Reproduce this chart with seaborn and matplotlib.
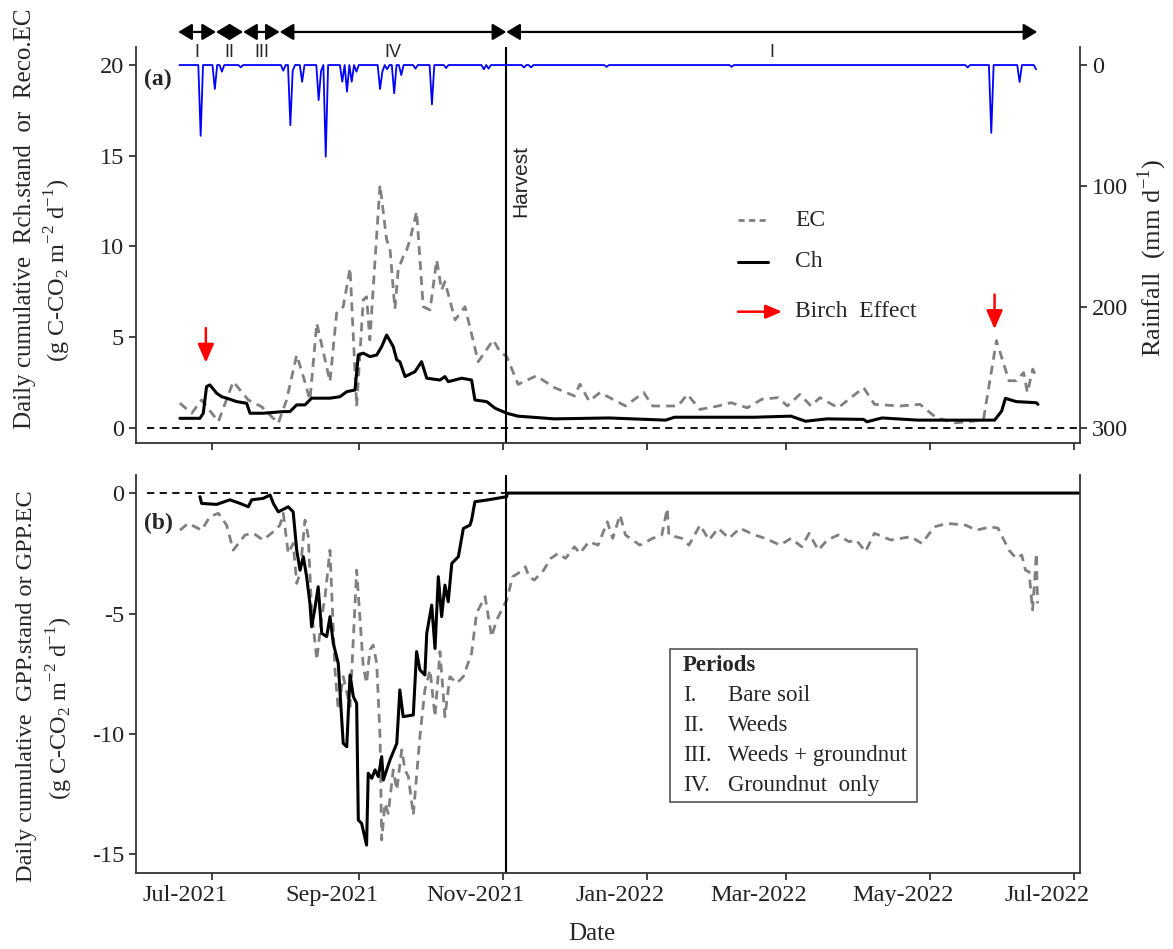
import pandas as pd
import matplotlib
matplotlib.use("Agg")
import matplotlib.pyplot as plt
import matplotlib.dates as mdates
import matplotlib.transforms as mtrans
from matplotlib.patches import Rectangle
import seaborn as sns

# days are counted from 1 Jul 2021
START = pd.Timestamp("2021-07-01")

# ---------------- (a) respiration ----------------
reco_ec_day = [-13.8, -8.8, -4.6, 2.5, 8.8, 15.2, 20.8, 27.9, 31.4, 35.7,
               38.5, 41.3, 44.2, 49.8, 52.6, 55.4, 58.3, 61.1, 63.9, 65.3,
               66.7, 68.9, 71.0, 73.8, 75.2, 77.3, 78.7, 80.8, 82.3, 83.7,
               86.5, 89.3, 92.2, 95.0, 97.1, 98.5, 102.8, 107.0, 112.6, 119.0,
               121.8, 124.7, 129.5, 137.2, 144.9, 153.4, 155.7, 159.6, 164.2, 175.0,
               182.7, 186.5, 197.3, 201.2, 206.6, 214.3, 219.7, 226.6, 232.8, 239.7,
               243.6, 248.9, 253.6, 257.4, 265.1, 275.9, 280.5, 291.3, 299.8, 306.7,
               314.4, 322.1, 326.7, 332.2, 337.5, 340.6, 343.7, 345.3, 347.6, 349.1]
reco_ec = [1.36, 0.81, 1.54, 0.35, 2.55, 1.54, 1.17, 0.26, 1.54, 4.02,
           2.83, 1.54, 5.77, 2.55, 6.32, 6.68, 8.80, 1.17, 7.05, 7.23,
           4.85, 9.26, 13.39, 10.36, 9.90, 6.56, 8.71, 9.44, 9.81, 10.36,
           11.92, 6.68, 6.50, 9.26, 7.60, 8.06, 5.95, 6.68, 3.65, 4.85,
           4.20, 3.93, 2.40, 2.87, 2.22, 1.76, 2.41, 1.48, 1.95, 1.21,
           1.95, 1.21, 1.21, 1.85, 1.02, 1.21, 1.39, 1.11, 1.58, 1.67,
           1.21, 1.85, 1.21, 1.67, 1.11, 2.22, 1.30, 1.21, 1.30, 0.56,
           0.28, 0.37, 0.47, 4.81, 2.60, 2.60, 3.05, 1.95, 3.24, 2.78]

reco_ch_day = [-13.8, -5.3, -3.9, -2.5, -1.1, 1.8, 3.9, 6.0, 10.3, 14.5,
               15.9, 21.5, 30.0, 32.8, 35.7, 39.2, 42.0, 49.8, 54.0, 56.9,
               60.4, 61.8, 63.9, 66.7, 69.6, 71.7, 73.8, 76.6, 78.1, 79.4,
               81.6, 85.8, 88.6, 90.8, 96.4, 98.5, 99.9, 105.6, 109.8, 111.2,
               116.2, 119.7, 124.7, 129.4, 144.9, 168.0, 192.0, 195.8, 229.7, 245.1,
               251.3, 260.4, 275.9, 277.3, 283.7, 298.9, 331.4, 334.4, 336.0, 340.6,
               349.1, 349.8]
reco_ch = [0.53, 0.53, 0.81, 2.28, 2.37, 1.91, 1.72, 1.64, 1.45, 1.36,
           0.81, 0.81, 0.90, 0.90, 1.27, 1.27, 1.64, 1.64, 1.72, 2.00,
           2.09, 4.02, 4.12, 3.93, 4.02, 4.48, 5.12, 4.48, 3.75, 3.65,
           2.83, 3.10, 3.65, 2.74, 2.64, 2.83, 2.55, 2.74, 2.64, 1.54,
           1.45, 1.09, 0.81, 0.65, 0.50, 0.55, 0.43, 0.59, 0.59, 0.65,
           0.37, 0.50, 0.47, 0.34, 0.55, 0.43, 0.43, 0.93, 1.63, 1.45,
           1.39, 1.30]

# rainfall (mm/day), days without rain are 0
rain_day = [-5, 1, 4, 12, 30, 33, 34, 38, 45, 46,
            48, 55, 57, 59, 61, 71, 72, 74, 77, 80,
            86, 93, 99, 115, 117, 132, 135, 167, 220, 320,
            330, 342, 349]
rain_mm = [58.5, 19.8, 5.5, 1.9, 4.7, 49.7, 4.7, 13.8, 29.0, 5.0,
           75.7, 13.8, 22.0, 13.8, 5.5, 19.8, 5.5, 3.5, 23.4, 8.3,
           3.0, 32.5, 2.5, 3.5, 3.0, 2.0, 2.0, 1.5, 1.5, 2.0,
           56.0, 14.0, 3.5]
rain_first, rain_last = -14, 349

# ---------------- (b) GPP ----------------
gpp_ec_day = [-13.8, -10.3, -7.4, -4.6, -1.1, 2.5, 6.0, 8.8, 13.8, 17.3,
              21.5, 25.8, 28.6, 30.0, 32.1, 34.2, 35.7, 37.1, 39.2, 40.6,
              42.0, 44.2, 46.3, 47.7, 49.8, 51.9, 53.3, 55.4, 58.3, 61.1,
              63.9, 65.3, 66.7, 68.1, 69.6, 71.0, 71.7, 73.1, 74.5, 76.6,
              78.1, 80.2, 81.6, 83.0, 85.1, 87.9, 90.0, 92.2, 94.3, 96.4,
              98.5, 100.6, 103.5, 106.3, 109.8, 111.9, 115.5, 118.3, 120.4, 124.7,
              127.2, 129.5, 132.6, 134.1, 136.4, 140.3, 143.4, 146.5, 149.6, 153.4,
              155.7, 159.5, 163.4, 167.3, 169.6, 172.7, 175.0, 181.1, 186.5, 190.4,
              192.7, 193.4, 198.9, 201.9, 206.6, 210.4, 214.3, 218.9, 223.5, 229.7,
              234.3, 240.5, 245.1, 249.7, 252.8, 256.7, 260.5, 265.1, 269.7, 272.8,
              276.7, 280.5, 287.5, 295.9, 300.6, 305.9, 311.4, 319.1, 323.7, 329.8,
              332.9, 337.5, 340.6, 342.9, 344.5, 346.0, 347.5, 348.3, 349.1, 349.6]
gpp_ec = [-1.54, -1.26, -1.40, -1.54, -0.98, -0.84, -1.33, -2.37, -1.74, -1.67,
          -1.95, -1.60, -1.33, -0.84, -2.50, -2.09, -3.75, -3.33, -1.12, -1.81,
          -4.85, -6.93, -5.13, -4.30, -2.37, -7.34, -9.00, -7.62, -8.86, -3.20,
          -7.20, -7.89, -6.51, -6.31, -7.07, -10.11, -14.40, -12.88, -13.30, -11.49,
          -12.32, -10.66, -11.49, -11.77, -13.36, -10.11, -8.17, -7.34, -9.28, -6.58,
          -9.28, -7.62, -7.89, -7.62, -6.65, -4.99, -4.30, -5.96, -5.27, -4.44,
          -3.47, -3.33, -3.06, -3.47, -3.61, -3.20, -2.71, -2.50, -2.71, -2.23,
          -2.50, -2.02, -2.16, -1.19, -1.88, -0.91, -1.74, -2.16, -1.88, -1.74,
          -0.64, -1.74, -1.88, -2.16, -1.33, -1.95, -1.46, -1.88, -1.46, -1.74,
          -1.88, -2.16, -1.88, -2.23, -1.67, -2.37, -1.95, -1.74, -2.02, -1.95,
          -2.43, -1.67, -1.95, -1.81, -2.09, -1.40, -1.26, -1.33, -1.54, -1.40,
          -1.46, -2.37, -2.71, -2.57, -3.20, -3.27, -4.85, -3.75, -2.50, -4.58]

gpp_ch_day = [-5.3, -4.6, 1.8, 7.4, 11.7, 15.2, 16.6, 21.5, 24.4, 25.8,
              27.9, 32.1, 34.2, 35.7, 37.1, 38.5, 39.9, 41.3, 42.0, 43.4,
              44.8, 46.3, 48.4, 49.8, 51.2, 53.3, 55.4, 56.9, 58.3, 59.7,
              61.1, 61.8, 63.2, 65.3, 66.0, 67.5, 68.9, 70.3, 71.7, 72.4,
              75.2, 78.1, 79.4, 80.8, 85.1, 86.5, 87.9, 90.0, 90.8, 92.9,
              94.3, 95.7, 97.1, 98.5, 99.9, 101.4, 104.2, 106.3, 109.1, 109.8,
              111.2, 116.2, 124.7, 124.8, 370]
gpp_ch = [-0.15, -0.43, -0.47, -0.28, -0.43, -0.57, -0.28, -0.22, -0.08, -0.43,
          -0.78, -0.57, -0.78, -2.37, -3.20, -2.64, -3.47, -4.58, -5.55, -4.79,
          -3.89, -5.82, -5.96, -5.13, -6.24, -7.07, -10.39, -10.53, -7.55, -8.45,
          -8.73, -13.57, -13.71, -14.61, -11.63, -11.84, -11.49, -11.77, -10.94, -11.91,
          -11.08, -10.39, -8.17, -9.28, -9.21, -6.58, -7.34, -7.55, -5.82, -4.65,
          -6.45, -3.47, -5.13, -3.82, -4.51, -2.92, -2.64, -1.47, -1.33, -1.12,
          -0.36, -0.29, -0.15, 0.0, 0.0]

# periods / events
period_edges = [-14.5, 1.5, 13, 28.5, 124.5, 349.5]
period_names = ["I", "II", "III", "IV", "I"]
harvest_day = 124.5
birch_day = [-2.8, 331.4]
birch_tip = [3.6, 5.45]
period_rows = [("I.", "Bare soil"), ("II.", "Weeds"),
               ("III.", "Weeds + groundnut"), ("IV.", "Groundnut  only")]


def to_date(days):
    return START + pd.to_timedelta(pd.Series(days, dtype=float), unit="D")


rain = pd.Series(0.0, index=range(rain_first, rain_last + 1))
rain.loc[rain_day] = rain_mm

sns.set_style("ticks")
plt.rcParams["font.family"] = ["Liberation Serif", "DejaVu Serif"]
plt.rcParams["mathtext.fontset"] = "custom"
plt.rcParams["mathtext.rm"] = "Liberation Serif"
plt.rcParams["axes.unicode_minus"] = False

W, H = 1173, 949
fig = plt.figure(figsize=(W / 100, H / 100), dpi=100)
ax_a = fig.add_axes([136 / W, 1 - 443 / H, 944 / W, 396 / H])
ax_b = fig.add_axes([136 / W, 1 - 873 / H, 944 / W, 398 / H])
ax_r = ax_a.twinx()

ec_kw = dict(color="#808080", lw=2.0, linestyle=(0, (3.2, 2.2)))
ch_kw = dict(color="black", lw=2.2)

# ---- lines
sns.lineplot(x=to_date(reco_ec_day), y=reco_ec, ax=ax_a, **ec_kw)
sns.lineplot(x=to_date(reco_ch_day), y=reco_ch, ax=ax_a, **ch_kw)
sns.lineplot(x=to_date(rain.index), y=rain.values, ax=ax_r, color="#0000ff", lw=1.3)
sns.lineplot(x=to_date(gpp_ec_day), y=gpp_ec, ax=ax_b, **ec_kw)
sns.lineplot(x=to_date(gpp_ch_day), y=gpp_ch, ax=ax_b, **ch_kw)

xlim = to_date([-32.4, 367.6])
for ax in (ax_a, ax_b):
    ax.set_xlim(xlim.iloc[0], xlim.iloc[1])
    ax.axvline(to_date([harvest_day]).iloc[0], color="black", lw=1.5)
    ax.axhline(0, color="black", lw=1.3, linestyle=(0, (4, 3)), xmin=0.012)
    ax.xaxis.set_major_locator(mdates.MonthLocator(bymonth=[1, 3, 5, 7, 9, 11]))
    ax.xaxis.set_major_formatter(mdates.DateFormatter("%b-%Y"))
    ax.tick_params(direction="out", length=5, width=1.2, labelsize=17.5, colors="#222222")
    ax.set_xlabel("")
    ax.set_ylabel("")
    for s in ax.spines.values():
        s.set_linewidth(1.3)
        s.set_color("#333333")
    ax.spines["top"].set_visible(False)

ax_a.set_ylim(-0.83, 20.99)
ax_a.set_yticks([0, 5, 10, 15, 20])
ax_a.tick_params(axis="x", labelbottom=False)
ax_a.spines["right"].set_visible(False)

ax_r.set_ylim(312.4, -14.9)
ax_r.set_yticks([0, 100, 200, 300])
ax_r.set_xlabel("")
ax_r.set_ylabel("")
ax_r.tick_params(direction="out", length=5, width=1.2, labelsize=17.5, colors="#222222")
for side in ("top", "left", "bottom"):
    ax_r.spines[side].set_visible(False)
ax_r.spines["right"].set_linewidth(1.3)
ax_r.spines["right"].set_color("#333333")

# period arrows above panel (a)
trans = mtrans.blended_transform_factory(ax_a.transData, ax_a.transAxes)
edges = mdates.date2num(to_date(period_edges))
for i, name in enumerate(period_names):
    ax_a.annotate("", xy=(edges[i + 1], 1.038), xytext=(edges[i], 1.038),
                  xycoords=trans, textcoords=trans, annotation_clip=False,
                  arrowprops=dict(arrowstyle="<|-|>,head_length=0.55,head_width=0.33",
                                  color="black", lw=1.6, shrinkA=0, shrinkB=0,
                                  mutation_scale=15))
    ax_a.text((edges[i] + edges[i + 1]) / 2, 0.986, name, transform=trans,
              ha="center", va="center", fontsize=13, family="Liberation Sans")

ax_a.text(mdates.date2num(to_date([harvest_day + 2.3]).iloc[0]), 13.6, "Harvest",
          rotation=90, ha="left", va="center", fontsize=15, family="Liberation Sans")

# birch effect arrows
for d, tip in zip(birch_day, birch_tip):
    x = to_date([d]).iloc[0]
    ax_a.annotate("", xy=(x, tip), xytext=(x, tip + 1.9),
                  arrowprops=dict(arrowstyle="-|>,head_length=0.8,head_width=0.35",
                                  color="red", lw=1.8, shrinkA=0, shrinkB=0,
                                  mutation_scale=14))

# legend of panel (a)
ax_a.plot([0.6377, 0.6695], [0.5631, 0.5631], transform=ax_a.transAxes,
          color="#808080", lw=2.0, linestyle=(0, (2.2, 1.6)))
ax_a.plot([0.6377, 0.6695], [0.4571, 0.4571], transform=ax_a.transAxes, **ch_kw)
ax_a.annotate("", xy=(0.6843, 0.3316), xytext=(0.6377, 0.3316),
              xycoords="axes fraction",
              arrowprops=dict(arrowstyle="-|>,head_length=0.7,head_width=0.3",
                              color="red", lw=1.8, shrinkA=0, shrinkB=0,
                              mutation_scale=14))
for y, txt in zip([0.5631, 0.4571, 0.3316], ["EC", "Ch", "Birch  Effect"]):
    ax_a.text(0.6981, y, txt, transform=ax_a.transAxes, ha="left", va="center",
              fontsize=17)

ax_a.text(0.009, 0.917, "(a)", transform=ax_a.transAxes, ha="left", va="center",
          fontsize=17, fontweight="bold")

# ---- panel (b)
ax_b.set_ylim(-15.77, 0.75)
ax_b.set_yticks([0, -5, -10, -15])
ax_b.text(0.009, 0.879, "(b)", transform=ax_b.transAxes, ha="left", va="center",
          fontsize=17, fontweight="bold")

# date labels sit a little left of their ticks in the original
shift = mtrans.ScaledTranslation(-0.27, 0, fig.dpi_scale_trans)
for lab in ax_b.get_xticklabels():
    lab.set_transform(lab.get_transform() + shift)
fig.text(592 / W, 1 - 934 / H, "Date", ha="center", va="center", fontsize=18)

ax_b.add_patch(Rectangle((0.5657, 0.1784), 0.2616, 0.3844, transform=ax_b.transAxes,
                         fill=False, edgecolor="#555555", lw=1.2))
ax_b.text(0.5794, 0.5226, "Periods", transform=ax_b.transAxes, ha="left", va="center",
          fontsize=16.5, fontweight="bold")
for k, (num, desc) in enumerate(period_rows):
    y = 0.4472 - k * 0.0754
    ax_b.text(0.5794, y, num, transform=ax_b.transAxes, ha="left", va="center", fontsize=16.5)
    ax_b.text(0.6271, y, desc, transform=ax_b.transAxes, ha="left", va="center", fontsize=16.5)

# y labels
fig.text(25 / W, 1 - 219 / H, "Daily cumulative  Rch.stand  or  Reco.EC", rotation=90,
         ha="center", va="center", fontsize=18)
fig.text(58 / W, 1 - 270 / H, r"(g C-CO$_2$ m$^{\mathregular{-2}}$ d$^{\mathregular{-1}}$)",
         rotation=90, ha="center", va="center", fontsize=17.5)
fig.text(27 / W, 1 - 686 / H, "Daily cumulative  GPP.stand or GPP.EC", rotation=90,
         ha="center", va="center", fontsize=17.5)
fig.text(60 / W, 1 - 708 / H, r"(g C-CO$_2$ m$^{\mathregular{-2}}$ d$^{\mathregular{-1}}$)",
         rotation=90, ha="center", va="center", fontsize=17.5)
fig.text(1152 / W, 1 - 258 / H, r"Rainfall  (mm d$^{\mathregular{-1}}$)", rotation=90,
         ha="center", va="center", fontsize=19)

fig.savefig("out.png", dpi=100)
